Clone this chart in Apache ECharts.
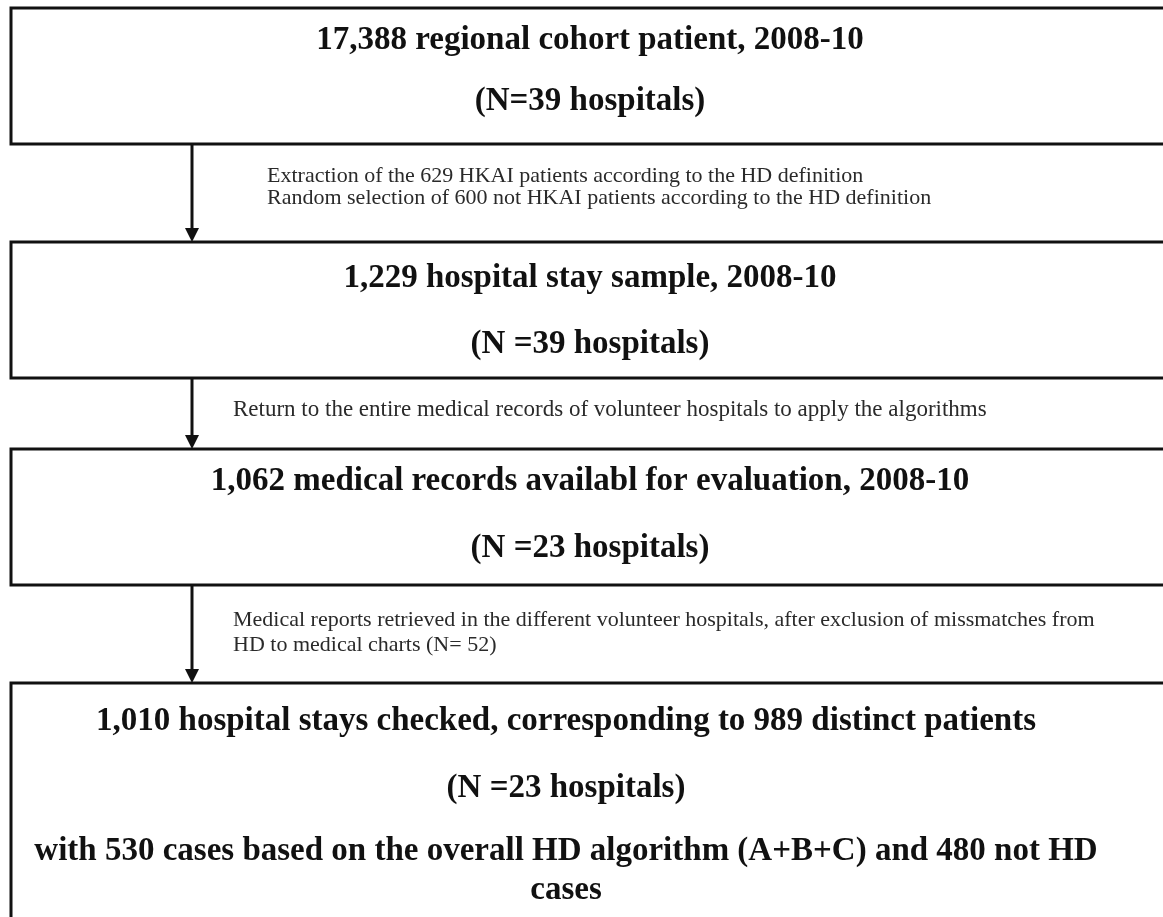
<!DOCTYPE html>
<html>
<head>
<meta charset="utf-8">
<script src="https://cdn.jsdelivr.net/npm/echarts@6/dist/echarts.min.js"></script>
<style>
  html, body { margin: 0; padding: 0; background: #fff; }
  #main { width: 1163px; height: 917px; }
</style>
</head>
<body>
<div id="main"></div>
<script>
// flow steps (box text, one entry per line)
const boxLines = [
  ['17,388 regional cohort patient, 2008-10', '(N=39 hospitals)'],
  ['1,229 hospital stay sample, 2008-10', '(N =39 hospitals)'],
  ['1,062 medical records availabl for evaluation, 2008-10', '(N =23 hospitals)'],
  ['1,010 hospital stays checked, corresponding to 989 distinct patients', '(N =23 hospitals)',
   'with 530 cases based on the overall HD algorithm (A+B+C) and 480 not HD', 'cases']
]
// notes written next to the arrows between boxes
const stepNotes = [
  ['Extraction of the 629 HKAI patients according to the HD definition',
   'Random selection of 600 not HKAI patients according to the HD definition'],
  ['Return to the entire medical records of volunteer hospitals to apply the algorithms'],
  ['Medical reports retrieved in the different volunteer hospitals, after exclusion of missmatches from',
   'HD to medical charts (N= 52)']
]

// layout
const boxTop = [8, 242, 449, 683]
const boxBottom = [144, 378, 585, 960]
const boxCenterX = [590, 590, 590, 566]
const lineY = [[40, 101], [278, 344], [481, 548], [721, 788, 851, 890]]
const noteX = [267, 233, 233]
const noteY = [[176, 198], [410], [620, 645]]
const noteSize = [22, 23, 22]
const arrowX = 192

const chart = echarts.init(document.getElementById('main'))
const elements = []

boxLines.forEach((lines, i) => {
  elements.push({
    type: 'rect',
    shape: { x: 11, y: boxTop[i], width: 1200, height: boxBottom[i] - boxTop[i] },
    style: { fill: '#fff', stroke: '#111', lineWidth: 3 }
  })
  lines.forEach((t, j) => {
    elements.push({
      type: 'text',
      x: boxCenterX[i],
      y: lineY[i][j],
      style: {
        text: t,
        fill: '#111',
        font: 'bold 33px "Liberation Serif", "Times New Roman", serif',
        align: 'center',
        verticalAlign: 'middle'
      }
    })
  })
})

stepNotes.forEach((lines, i) => {
  const y1 = boxBottom[i]
  const y2 = boxTop[i + 1]
  elements.push({
    type: 'line',
    shape: { x1: arrowX, y1: y1, x2: arrowX, y2: y2 - 12 },
    style: { stroke: '#111', lineWidth: 3 }
  })
  elements.push({
    type: 'polygon',
    shape: { points: [[arrowX - 7, y2 - 14], [arrowX + 7, y2 - 14], [arrowX, y2]] },
    style: { fill: '#111' }
  })
  lines.forEach((t, j) => {
    elements.push({
      type: 'text',
      x: noteX[i],
      y: noteY[i][j],
      style: {
        text: t,
        fill: '#2a2a2a',
        font: noteSize[i] + 'px "Liberation Serif", "Times New Roman", serif',
        align: 'left',
        verticalAlign: 'middle'
      }
    })
  })
})

chart.setOption({
  animation: false,
  backgroundColor: '#fff',
  graphic: { elements: elements }
})
</script>
</body>
</html>
